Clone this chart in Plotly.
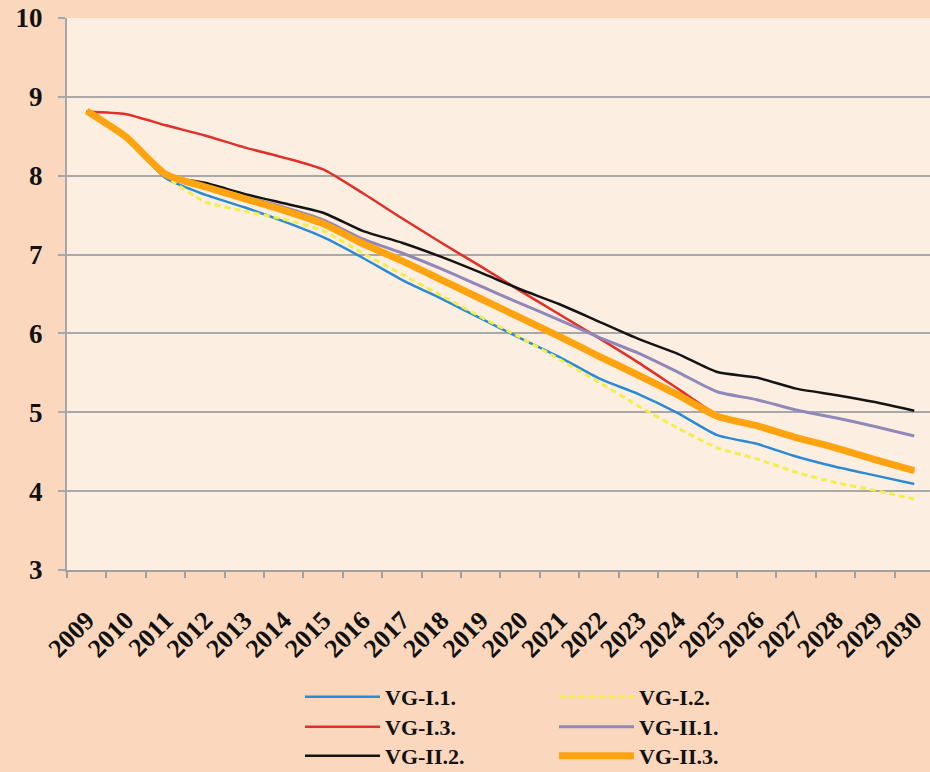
import plotly.graph_objects as go

years = [str(y) for y in range(2009, 2031)]

vg_i_1 = [8.82, 8.48, 7.97, 7.76, 7.60, 7.42, 7.22, 6.96, 6.68, 6.44, 6.19,
          5.94, 5.70, 5.43, 5.23, 4.99, 4.71, 4.60, 4.44, 4.31, 4.20, 4.09]
vg_i_2 = [8.82, 8.49, 8.00, 7.67, 7.55, 7.45, 7.30, 7.02, 6.75, 6.48, 6.21,
          5.95, 5.67, 5.38, 5.08, 4.80, 4.55, 4.41, 4.24, 4.11, 4.01, 3.90]
vg_i_3 = [8.81, 8.78, 8.64, 8.51, 8.36, 8.23, 8.08, 7.78, 7.46, 7.15, 6.85,
          6.54, 6.24, 5.94, 5.63, 5.30, 4.97, 4.82, 4.67, 4.54, 4.40, 4.25]
vg_ii_1 = [8.82, 8.50, 8.01, 7.88, 7.74, 7.60, 7.44, 7.20, 7.02, 6.82, 6.60,
           6.38, 6.17, 5.95, 5.75, 5.51, 5.26, 5.16, 5.03, 4.93, 4.82, 4.70]
vg_ii_2 = [8.82, 8.50, 8.01, 7.91, 7.77, 7.65, 7.53, 7.30, 7.15, 6.97, 6.77,
           6.56, 6.37, 6.15, 5.93, 5.74, 5.51, 5.44, 5.30, 5.22, 5.13, 5.02]
vg_ii_3 = [8.82, 8.49, 8.02, 7.86, 7.71, 7.56, 7.39, 7.14, 6.92, 6.68, 6.44,
           6.20, 5.96, 5.71, 5.47, 5.22, 4.95, 4.83, 4.68, 4.55, 4.40, 4.26]

y_ticks = [3, 4, 5, 6, 7, 8, 9, 10]

series = [
    ("VG-I.1.", vg_i_1, "#2a8ad4", 2.5, "solid", "legend"),
    ("VG-I.2.", vg_i_2, "#f2ee4a", 3, "6px,4px", "legend"),
    ("VG-I.3.", vg_i_3, "#e0302a", 2.5, "solid", "legend2"),
    ("VG-II.1.", vg_ii_1, "#9088b8", 3, "solid", "legend2"),
    ("VG-II.2.", vg_ii_2, "#141414", 2.5, "solid", "legend3"),
    ("VG-II.3.", vg_ii_3, "#ffa410", 7, "solid", "legend3"),
]

FONT = "Liberation Serif"
fig = go.Figure()
for name, vals, color, width, dash, leg in series:
    fig.add_trace(go.Scatter(
        x=years, y=vals, mode="lines", name=name, legend=leg,
        line=dict(color=color, width=width, dash=dash, shape="spline", smoothing=0.6),
    ))

W, H = 930, 772
L, R, T, B = 67, 0, 18, 202
ph = H - T - B

def py(pix):
    return (H - B - pix) / ph

def px(pix):
    return (pix - L) / (W - L - R)

leg_common = dict(orientation="h", xanchor="left", yanchor="middle",
                  font=dict(family=FONT, size=22, color="#111111", weight="bold"),
                  bgcolor="rgba(0,0,0,0)", itemwidth=75,
                  entrywidth=164, entrywidthmode="pixels",
                  itemclick=False, itemdoubleclick=False)

fig.update_layout(
    width=W, height=H,
    margin=dict(l=L, r=R, t=T, b=B, autoexpand=False),
    paper_bgcolor="#fbd8bd",
    plot_bgcolor="#fdeee2",
    font=dict(family=FONT, color="#111111"),
    showlegend=True,
    legend=dict(x=px(300), y=py(697), **leg_common),
    legend2=dict(x=px(300), y=py(727), **leg_common),
    legend3=dict(x=px(300), y=py(756), **leg_common),
    xaxis=dict(
        type="category", range=[-0.5, 21.4],
        showgrid=False, showline=True, linecolor="#a0a0a0", linewidth=1.5,
        ticks="outside", ticklen=6, tickcolor="#a0a0a0", tickwidth=1.5,
        tickson="boundaries", tickangle=-45,
        tickfont=dict(family=FONT, size=26, color="#111111", weight="bold"),
        ticklabelstandoff=23, automargin=False,
    ),
    yaxis=dict(
        range=[3, 10], tickvals=y_ticks,
        showgrid=True, gridcolor="#a8a8a8", gridwidth=1.5,
        showline=True, linecolor="#a8a8a8", linewidth=2,
        ticks="outside", ticklen=7, tickcolor="#a8a8a8", tickwidth=1.5,
        tickfont=dict(family=FONT, size=27, color="#111111", weight="bold"),
        ticklabelstandoff=10, zeroline=False, automargin=False,
    ),
)

fig.write_html(
    "out.html",
    config={"displayModeBar": False},
    post_script="document.body.style.margin='0';document.body.style.overflow='hidden';",
)
